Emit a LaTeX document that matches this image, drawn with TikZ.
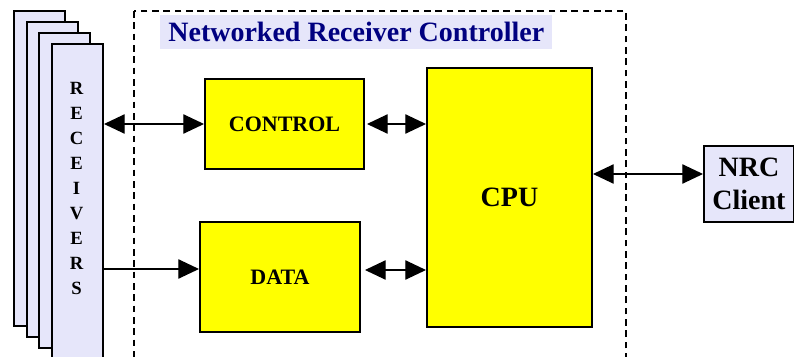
\documentclass[tikz,border=0pt]{standalone}
\usepackage{fontspec}
\setmainfont{Liberation Serif}
\usepackage{tikz}
\usetikzlibrary{arrows.meta,calc,positioning}
\definecolor{lavender}{HTML}{E6E6FA}
\definecolor{navyblue}{HTML}{000080}
\definecolor{unityellow}{HTML}{FFFF00}
\tikzset{
	unit/.style={draw, line width=1.5pt, fill=unityellow, font=\bfseries, anchor=north west, inner sep=0pt},
	rcv/.style={draw, line width=1.5pt, fill=lavender, anchor=north west, inner sep=0pt, minimum width=38.25pt, minimum height=236.25pt},
	link/.style={line width=0.9pt, {Triangle[length=15.5pt,width=14.5pt]}-{Triangle[length=15.5pt,width=14.5pt]}},
	feed/.style={line width=0.9pt, -{Triangle[length=15.5pt,width=14.5pt]}}
}

\begin{document}
\begin{tikzpicture}[x=0.75pt,y=-0.75pt]
\useasboundingbox (0,0) rectangle (794,357);

\draw[dashed, line width=1.1pt, dash pattern=on 5pt off 3.5pt] (134,11) rectangle (626,370);

\foreach \i/\x/\y in {1/13/10,2/26/21,3/38/32,4/51/43}
	\node[rcv] (rcv\i) at (\x,\y) {};
\node[align=center, font=\bfseries\fontsize{14}{18.75}\selectfont] (rcvtext) at (76.5,188) {R\\E\\C\\E\\I\\V\\E\\R\\S};

\node[fill=lavender, anchor=north west, inner sep=0pt, minimum width=294pt, minimum height=25.5pt, text=navyblue, font=\bfseries\fontsize{21}{24}\selectfont] (title) at (160,15) {Networked Receiver Controller};

\node[unit, minimum width=119.25pt, minimum height=67.5pt, font=\bfseries\fontsize{16.5}{20}\selectfont] (ctrl) at (204,78) {CONTROL};
\node[unit, minimum width=120pt, minimum height=82.5pt, font=\bfseries\fontsize{16.5}{20}\selectfont] (data) at (199,221) {DATA};
\node[unit, minimum width=123.75pt, minimum height=194.25pt, font=\bfseries\fontsize{21}{25}\selectfont] (cpu) at (426,67) {CPU\\[9pt]};
\node[draw, line width=1.5pt, fill=lavender, anchor=north west, inner sep=0pt, minimum width=67.5pt, minimum height=57pt, align=center, font=\bfseries\fontsize{21}{24.5}\selectfont] (nrc) at (703,145) {NRC\\Client};

\coordinate (datain) at ([yshift=6pt]data.west);
\coordinate (dataout) at ([yshift=5.25pt]data.east);
\coordinate (cpuout) at ([yshift=7.5pt]nrc.west);

\draw[link] (rcv4.east |- ctrl.west) -- (ctrl.west);
\draw[feed] (datain -| rcv4.east) -- (datain);
\draw[link] ([xshift=1.5pt]ctrl.east) -- (ctrl.east -| cpu.west);
\draw[link] ([xshift=3pt]dataout) -- (dataout -| cpu.west);
\draw[link] (cpuout -| cpu.east) -- (cpuout);
\end{tikzpicture}
\end{document}
